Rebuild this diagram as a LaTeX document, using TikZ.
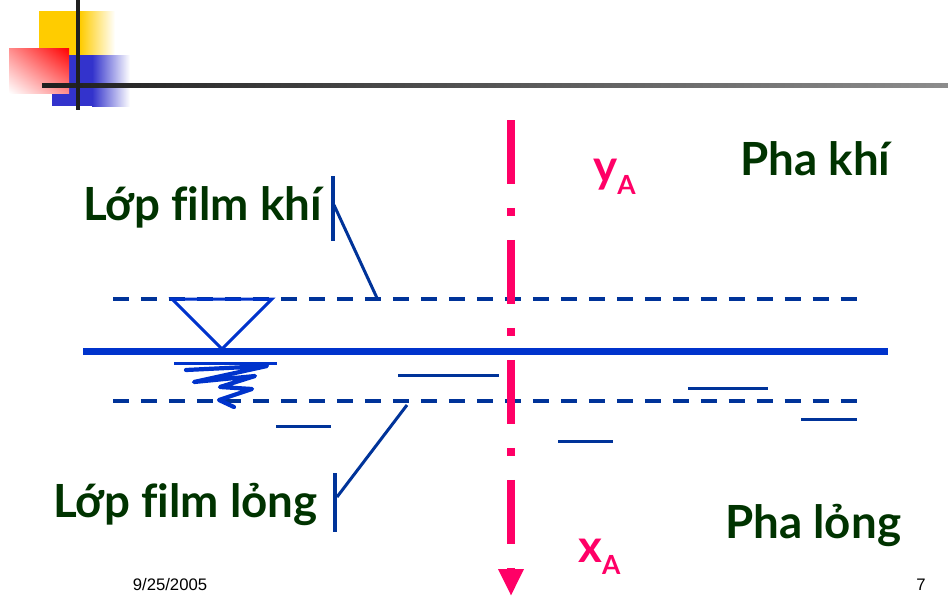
\documentclass[tikz,border=0pt]{standalone}
\usepackage{fontspec}
\setmainfont{Lato}[Ligatures=NoCommon]
\newfontfamily\footfont{Liberation Sans}
\usepackage{tikz}
\usetikzlibrary{arrows.meta,shadings}

\definecolor{filmgreen}{RGB}{0,51,0}
\definecolor{axispink}{RGB}{255,0,102}
\definecolor{surfblue}{RGB}{0,51,204}
\definecolor{filmblue}{RGB}{0,51,153}
\definecolor{deckyellow}{RGB}{255,204,0}
\definecolor{deckblue}{RGB}{51,51,204}

% 1 unit = 0.02cm = 0.569pt
\tikzset{
  phaselabel/.style={inner sep=0pt, text=filmgreen, font=\fontsize{26}{30}\selectfont\bfseries},
  conclabel/.style={inner sep=0pt, text=axispink, font=\fontsize{26}{30}\selectfont\bfseries},
  filmedge/.style={filmblue, line width=2.28pt, dash pattern=on 9.1pt off 6.83pt},
  pointer/.style={filmblue, line width=1.71pt},
  liqmark/.style={filmblue, line width=1.71pt},
  footlabel/.style={inner sep=0pt, font=\footfont\fontsize{9.5}{11}\selectfont}
}

\begin{document}
\begin{tikzpicture}[x=0.02cm,y=-0.02cm]
\useasboundingbox (0,0) rectangle (948,613);

% slide decoration
\fill[deckyellow] (39,11) rectangle (81,55);
\shade[left color=deckyellow, right color=white] (80,11) rectangle (115,55);
\fill[deckblue] (52,55) rectangle (93,106);
\shade[left color=deckblue, right color=white] (92,55) rectangle (130,106);
\shade[lower left=white, upper right=red, upper left=red!45!white, lower right=red!45!white] (9,48) rectangle (69,93);
\shade[left color=black!88, right color=black!45] (42,83) rectangle (948,87);
\fill[black!88] (76,0) rectangle (80,110);

% interface and film edges
\draw[surfblue, line width=3.98pt] (83,351) -- (888,351);
\draw[filmedge] (113,299) -- (858,299);
\draw[filmedge] (113,401) -- (858,401);

% water level mark
\coordinate (tl) at (172,299);
\coordinate (tr) at (272,299);
\coordinate (tb) at (222,349);
\draw[surfblue, line width=1.71pt, line join=miter] (tl) -- (tr) -- (tb) -- cycle;
\draw[surfblue, line width=1.71pt] (174,363) -- (277,363);
\draw[surfblue, line width=2.4pt, line join=round, line cap=round]
  (186,370) -- (267,366) -- (194,382) -- (255,376) -- (220,387) -- (252,389) -- (219,400) -- (234,407);

% liquid marks
\draw[liqmark] (398,375) -- (499,375);
\draw[liqmark] (276,426) -- (331,426);
\draw[liqmark] (558,441) -- (613,441);
\draw[liqmark] (688,388) -- (768,388);
\draw[liqmark] (801,419) -- (857,419);

% diffusion axis
\coordinate (axtop) at (511,120);
\coordinate (axbot) at (511,596);
\draw[axispink, line width=4.55pt, dash pattern=on 36.4pt off 13.66pt on 4.55pt off 13.66pt,
  -{Triangle[width=13.66pt, length=15.36pt]}] (axtop) -- (axbot);

% labels
\node[phaselabel, anchor=base west] (filmkhi) at (83,220) {Lớp film khí};
\node[phaselabel, anchor=base west] (filmlong) at (53,517) {Lớp film lỏng};
\node[phaselabel, anchor=base west] (phakhi) at (740,175) {Pha khí};
\node[phaselabel, anchor=base west] (phalong) at (725,538) {Pha lỏng};
\node[conclabel, anchor=base west] (ya) at (593,182) {y\raisebox{-7pt}{\fontsize{15}{15}\selectfont A}};
\node[conclabel, anchor=base west] (xa) at (578,562) {x\raisebox{-7pt}{\fontsize{15}{15}\selectfont A}};

% pointers
\coordinate (khibar) at (334,205);
\coordinate (khiend) at (377,298);
\coordinate (longbar) at (337,497);
\coordinate (longend) at (407,405);
\draw[pointer] (333,176) -- (333,241);
\draw[pointer] (khibar) -- (khiend);
\draw[pointer] (335,473) -- (335,532);
\draw[pointer] (longbar) -- (longend);

\node[footlabel] (date) at (170,585) {9/25/2005};
\node[footlabel] (page) at (921,585) {7};
\end{tikzpicture}
\end{document}
